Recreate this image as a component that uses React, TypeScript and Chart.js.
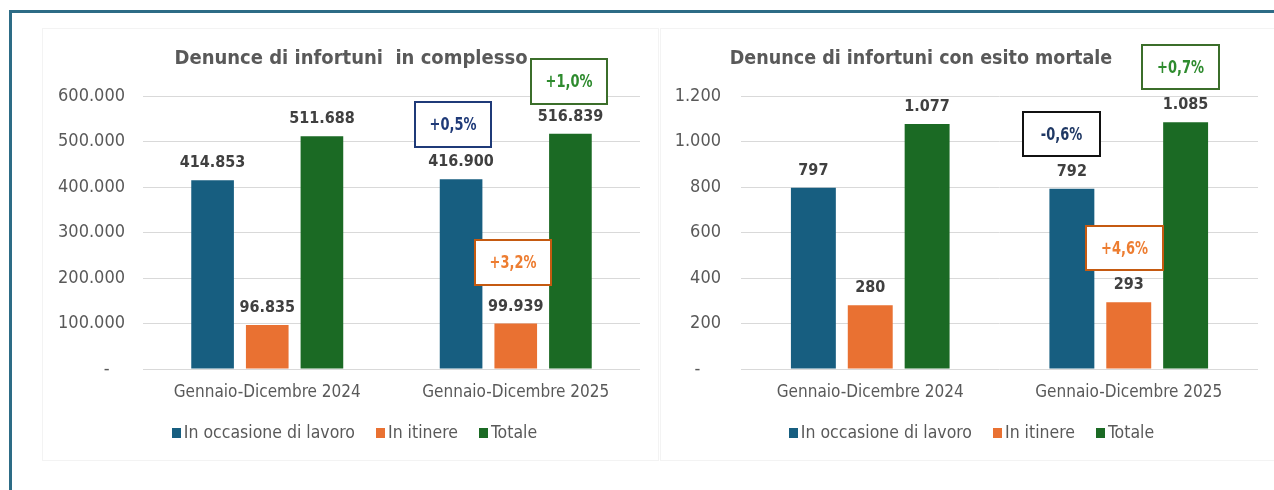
import React, { useEffect, useRef } from 'react';
import Chart from 'chart.js/auto';

// ---------- DATA ----------
const categories = ['Gennaio-Dicembre 2024', 'Gennaio-Dicembre 2025'];
const seriesNames = ['In occasione di lavoro', 'In itinere', 'Totale'];
const seriesColors = ['#175e80', '#e97132', '#1b6a24'];

const complessoTitle = 'Denunce di infortuni  in complesso';
const complessoLavoro = [414853, 416900];
const complessoItinere = [96835, 99939];
const complessoTotale = [511688, 516839];
const complessoAxisMax = 600000;
const complessoAxisStep = 100000;
const complessoVariazioni = ['+0,5%', '+3,2%', '+1,0%'];

const mortaliTitle = 'Denunce di infortuni con esito mortale';
const mortaliLavoro = [797, 792];
const mortaliItinere = [280, 293];
const mortaliTotale = [1077, 1085];
const mortaliAxisMax = 1200;
const mortaliAxisStep = 200;
const mortaliVariazioni = ['-0,6%', '+4,6%', '+0,7%'];

// ---------- STYLE ----------
const FONT = '"DejaVu Sans Condensed", "DejaVu Sans", sans-serif';
const TEXT = '#595959';
const LABEL = '#404040';

const fmt = (n: number) => String(Math.round(n)).replace(/\B(?=(\d{3})+(?!\d))/g, '.');

type BoxStyle = { border: string; color: string; dx: number; dy: number };

interface PanelCfg {
  title: string;
  titleX: number;
  titleSize: number;
  values: number[][];
  max: number;
  step: number;
  changes: string[];
  boxStyles: BoxStyle[];
  width: number;
  height: number;
  yWidth: number;
  yPad: number;
  padRight: number;
  zeroLabel: string;
  barPct: number;
  boxW: number;
  boxH: number;
}

function makePlugin(cfg: PanelCfg) {
  return {
    id: 'custom-draw',
    afterDatasetsDraw(chart: any) {
      const ctx = chart.ctx as CanvasRenderingContext2D;
      ctx.save();
      // data labels
      ctx.font = `bold 16px ${FONT}`;
      ctx.fillStyle = LABEL;
      ctx.textAlign = 'center';
      ctx.textBaseline = 'middle';
      chart.data.datasets.forEach((ds: any, i: number) => {
        const meta = chart.getDatasetMeta(i);
        meta.data.forEach((el: any, j: number) => {
          ctx.fillText(fmt(ds.data[j]), el.x, el.y - 17);
        });
      });
      // change boxes (anchored on the 2025 bars)
      cfg.changes.forEach((txt, i) => {
        const st = cfg.boxStyles[i];
        const el = chart.getDatasetMeta(i).data[1];
        const cx = el.x + st.dx;
        const cy = el.y + st.dy;
        const x0 = Math.round(cx - cfg.boxW / 2);
        const y0 = Math.round(cy - cfg.boxH / 2);
        ctx.fillStyle = '#ffffff';
        ctx.fillRect(x0, y0, cfg.boxW, cfg.boxH);
        ctx.lineWidth = 2;
        ctx.strokeStyle = st.border;
        ctx.strokeRect(x0, y0, cfg.boxW, cfg.boxH);
        ctx.save();
        ctx.translate(x0 + cfg.boxW / 2, y0 + cfg.boxH / 2 + 1);
        ctx.scale(0.78, 1);
        ctx.fillStyle = st.color;
        ctx.font = `bold 18.5px ${FONT}`;
        ctx.fillText(txt, 0, 0);
        ctx.restore();
      });
      // title
      ctx.font = `bold ${cfg.titleSize}px ${FONT}`;
      ctx.fillStyle = TEXT;
      ctx.fillText(cfg.title, cfg.titleX, 30);
      // legend
      ctx.font = `17.5px ${FONT}`;
      const mW = 9, mH = 10, gapT = 3, gapI = 21;
      const widths = seriesNames.map((s) => ctx.measureText(s).width);
      const total = widths.reduce((a, w) => a + mW + gapT + w, 0) + gapI * (seriesNames.length - 1);
      let x = chart.width / 2 + 4 - total / 2;
      const ly = 404;
      ctx.textAlign = 'left';
      seriesNames.forEach((s, i) => {
        ctx.fillStyle = seriesColors[i];
        ctx.fillRect(Math.round(x), ly - 5, mW, mH);
        x += mW + gapT;
        ctx.fillStyle = TEXT;
        ctx.fillText(s, x, ly);
        x += widths[i] + gapI;
      });
      ctx.restore();
    },
  };
}

function Panel({ cfg }: { cfg: PanelCfg }) {
  const ref = useRef<HTMLCanvasElement>(null);
  useEffect(() => {
    if (!ref.current) return;
    const chart = new Chart(ref.current, {
      type: 'bar',
      data: {
        labels: categories,
        datasets: seriesNames.map((name, i) => ({
          label: name,
          data: cfg.values[i],
          backgroundColor: seriesColors[i],
          borderWidth: 0,
          categoryPercentage: 0.66,
          barPercentage: cfg.barPct,
        })),
      },
      options: {
        animation: false,
        responsive: false,
        maintainAspectRatio: false,
        layout: { padding: { top: 67, right: cfg.padRight, left: 0, bottom: 0 } },
        plugins: {
          legend: { display: false },
          title: { display: false },
          tooltip: { enabled: false },
        },
        scales: {
          x: {
            grid: { display: false, drawTicks: false },
            border: { display: false },
            ticks: { color: TEXT, font: { family: FONT, size: 17 }, padding: 13 },
            afterFit: (s: any) => {
              s.height = 91;
            },
          },
          y: {
            min: 0,
            max: cfg.max,
            grid: { color: '#d9d9d9', drawTicks: false },
            border: { display: false },
            ticks: {
              stepSize: cfg.step,
              color: TEXT,
              font: { family: FONT, size: 18 },
              padding: cfg.yPad,
              callback: (v: any) => (Number(v) === 0 ? cfg.zeroLabel : fmt(Number(v))),
            },
            afterFit: (s: any) => {
              s.width = cfg.yWidth;
            },
          },
        },
      },
      plugins: [makePlugin(cfg)],
    } as any);
    return () => chart.destroy();
  }, [cfg]);
  return <canvas ref={ref} width={cfg.width} height={cfg.height} style={{ display: 'block' }} />;
}

const leftCfg: PanelCfg = {
  title: complessoTitle,
  titleX: 308,
  titleSize: 20,
  values: [complessoLavoro, complessoItinere, complessoTotale],
  max: complessoAxisMax,
  step: complessoAxisStep,
  changes: complessoVariazioni,
  boxStyles: [
    { border: '#1f3a78', color: '#1f3a78', dx: -8.5, dy: -55 },
    { border: '#c55a11', color: '#ed7d31', dx: -3, dy: -61 },
    { border: '#3b6e2a', color: '#2e8b2e', dx: -1, dy: -52 },
  ],
  width: 615,
  height: 431,
  yWidth: 100,
  yPad: 18,
  padRight: 18,
  zeroLabel: '-   ',
  barPct: 0.78,
  boxW: 76,
  boxH: 45,
};

const rightCfg: PanelCfg = {
  title: mortaliTitle,
  titleX: 260,
  titleSize: 19.5,
  values: [mortaliLavoro, mortaliItinere, mortaliTotale],
  max: mortaliAxisMax,
  step: mortaliAxisStep,
  changes: mortaliVariazioni,
  boxStyles: [
    { border: '#111111', color: '#1f3864', dx: -10, dy: -55 },
    { border: '#c55a11', color: '#ed7d31', dx: -4, dy: -54 },
    { border: '#3b6e2a', color: '#2e8b2e', dx: -5, dy: -55 },
  ],
  width: 613,
  height: 431,
  yWidth: 80,
  yPad: 20,
  padRight: 16,
  zeroLabel: '-    ',
  barPct: 0.79,
  boxW: 77,
  boxH: 44,
};

export default function App() {
  return (
    <div
      style={{
        position: 'absolute',
        left: 0,
        top: 0,
        width: 1274,
        height: 490,
        overflow: 'hidden',
        background: '#ffffff',
      }}
    >
      <div
        style={{
          position: 'absolute',
          left: 9,
          top: 10,
          width: 1320,
          height: 520,
          borderLeft: '3px solid #2d6c86',
          borderTop: '3px solid #2d6c86',
        }}
      />
      <div style={{ position: 'absolute', left: 43, top: 29, boxShadow: '0 0 0 1px #f3f3f3', background: '#fff' }}>
        <Panel cfg={leftCfg} />
      </div>
      <div style={{ position: 'absolute', left: 661, top: 29, boxShadow: '0 0 0 1px #f3f3f3', background: '#fff' }}>
        <Panel cfg={rightCfg} />
      </div>
    </div>
  );
}
